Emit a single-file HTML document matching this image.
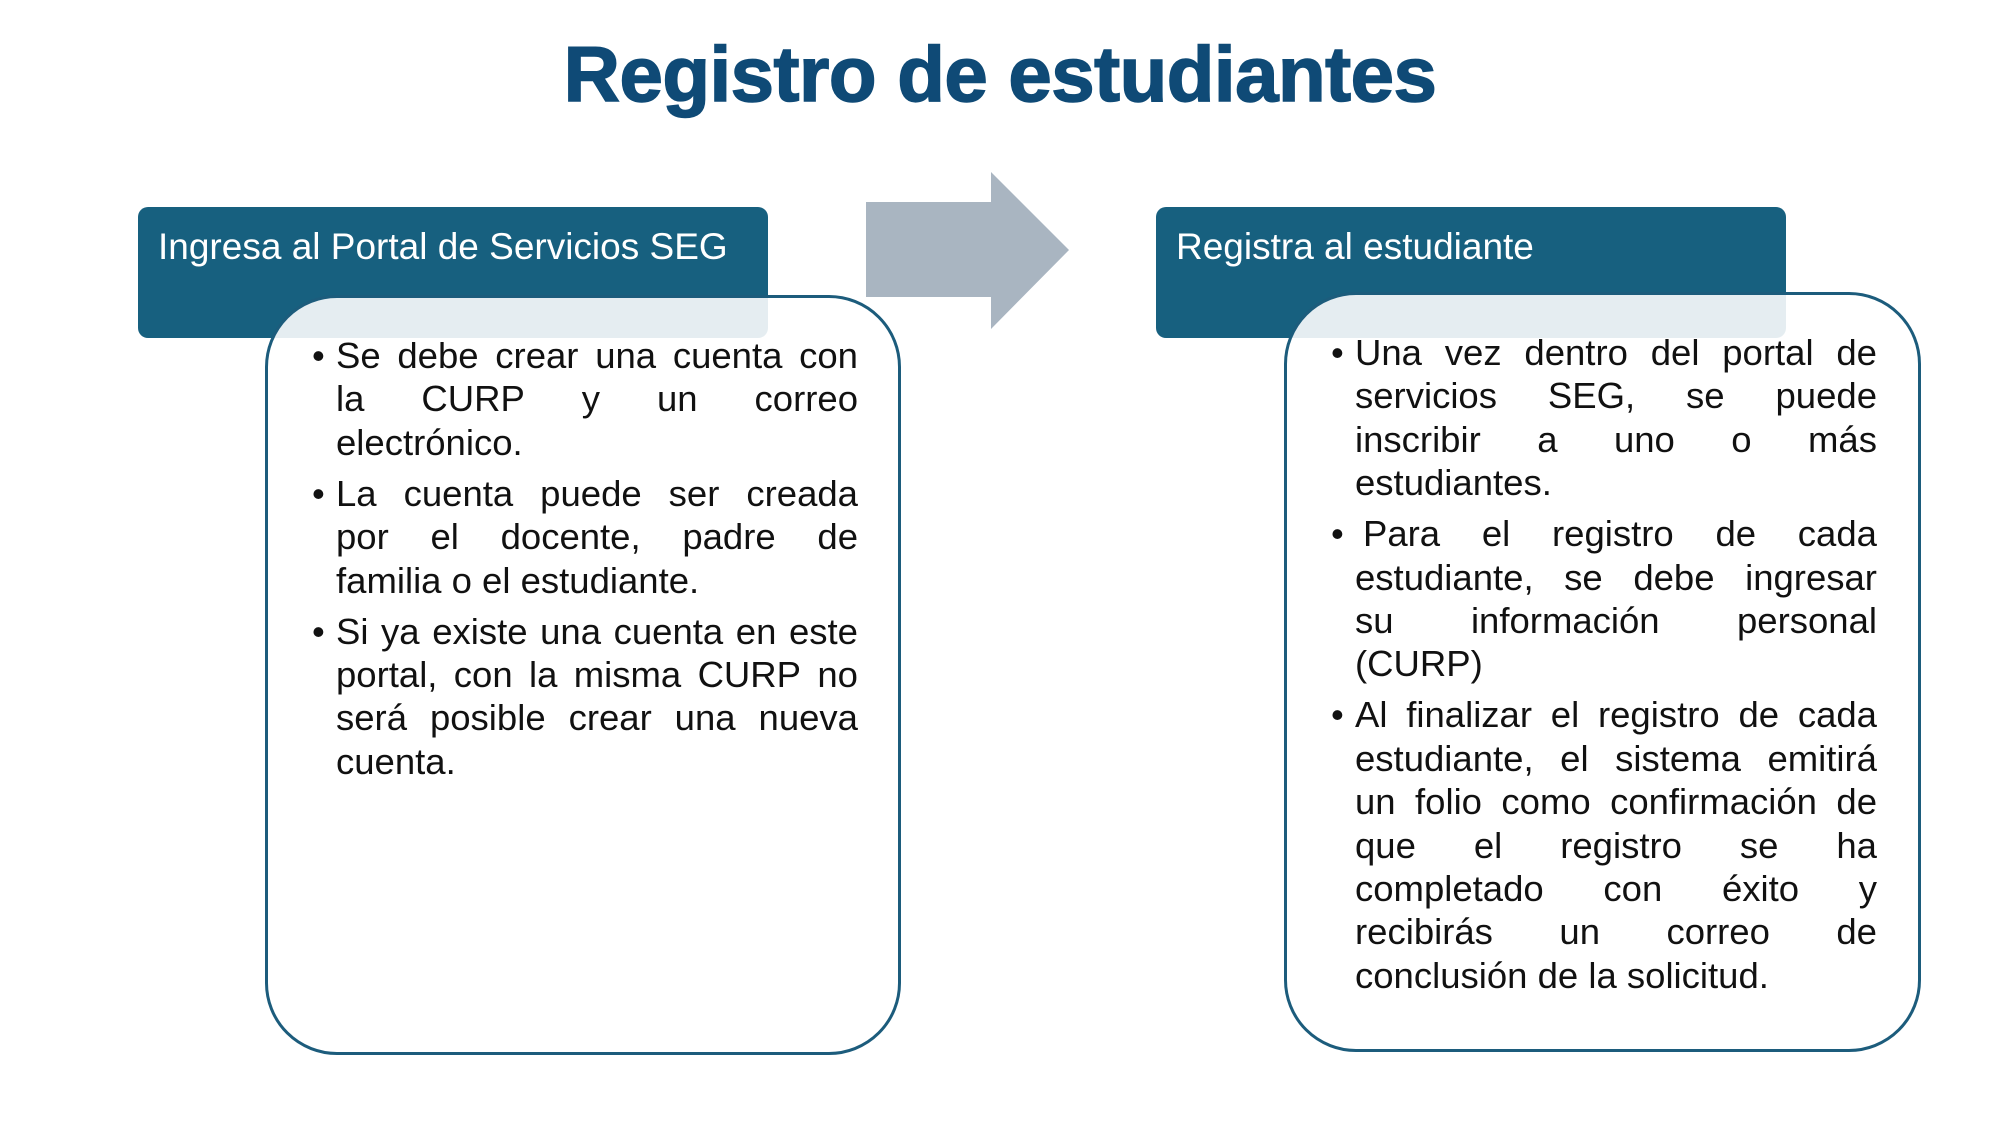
<!DOCTYPE html>
<html><head><meta charset="utf-8"><style>
html,body{margin:0;padding:0;background:#fff}
body{width:2000px;height:1125px;position:relative;overflow:hidden;font-family:"Liberation Sans",sans-serif}
.title{position:absolute;left:0;width:2000px;top:29px;line-height:90px;text-align:center;font-weight:bold;font-size:78px;color:#0f4a76;letter-spacing:-0.5px;-webkit-text-stroke:1.5px #0f4a76}
.hdr{position:absolute;background:#17607f;border-radius:10px;color:#fff;font-size:37px;box-sizing:border-box;padding-left:20px;padding-top:40px;line-height:0}
.body{position:absolute;box-sizing:border-box;border:3px solid #1c5c7c;border-radius:72px;background:rgba(255,255,255,0.89)}
.txt{position:absolute;font-size:36.5px;color:#111;line-height:43.4px}
.txt .l{white-space:nowrap;display:flex;justify-content:space-between}
.txt .e{justify-content:flex-start;white-space:pre}
.txt .p{margin-bottom:7.6px;position:relative}
.txt .p::before{content:"•";position:absolute;left:-24px;top:0}
</style></head><body>
<div class="title">Registro de estudiantes</div>

<div class="hdr" style="left:138px;top:207px;width:630px;height:131px">Ingresa al Portal de Servicios SEG</div>
<div class="body" style="left:265px;top:295px;width:636px;height:760px"></div>

<div class="hdr" style="left:1156px;top:207px;width:630px;height:131px">Registra al estudiante</div>
<div class="body" style="left:1284px;top:292px;width:637px;height:760px"></div>

<svg style="position:absolute;left:0;top:0" width="2000" height="1125">
<polygon points="866,202 991,202 991,172 1069,250 991,329 991,297 866,297" fill="#a9b5c1"/>
</svg>

<div class="txt" style="left:336px;top:334px;width:522px">
<div class="p">
<div class="l"><span>Se</span><span>debe</span><span>crear</span><span>una</span><span>cuenta</span><span>con</span></div>
<div class="l"><span>la</span><span>CURP</span><span>y</span><span>un</span><span>correo</span></div>
<div class="l e">electrónico.</div>
</div>
<div class="p">
<div class="l"><span>La</span><span>cuenta</span><span>puede</span><span>ser</span><span>creada</span></div>
<div class="l"><span>por</span><span>el</span><span>docente,</span><span>padre</span><span>de</span></div>
<div class="l e">familia o el estudiante.</div>
</div>
<div class="p">
<div class="l"><span>Si</span><span>ya</span><span>existe</span><span>una</span><span>cuenta</span><span>en</span><span>este</span></div>
<div class="l"><span>portal,</span><span>con</span><span>la</span><span>misma</span><span>CURP</span><span>no</span></div>
<div class="l"><span>será</span><span>posible</span><span>crear</span><span>una</span><span>nueva</span></div>
<div class="l e">cuenta.</div>
</div>
</div>

<div class="txt" style="left:1355px;top:331px;width:522px">
<div class="p">
<div class="l"><span>Una</span><span>vez</span><span>dentro</span><span>del</span><span>portal</span><span>de</span></div>
<div class="l"><span>servicios</span><span>SEG,</span><span>se</span><span>puede</span></div>
<div class="l"><span>inscribir</span><span>a</span><span>uno</span><span>o</span><span>más</span></div>
<div class="l e">estudiantes.</div>
</div>
<div class="p">
<div class="l" style="padding-left:8px"><span>Para</span><span>el</span><span>registro</span><span>de</span><span>cada</span></div>
<div class="l"><span>estudiante,</span><span>se</span><span>debe</span><span>ingresar</span></div>
<div class="l"><span>su</span><span>información</span><span>personal</span></div>
<div class="l e">(CURP)</div>
</div>
<div class="p">
<div class="l"><span>Al</span><span>finalizar</span><span>el</span><span>registro</span><span>de</span><span>cada</span></div>
<div class="l"><span>estudiante,</span><span>el</span><span>sistema</span><span>emitirá</span></div>
<div class="l"><span>un</span><span>folio</span><span>como</span><span>confirmación</span><span>de</span></div>
<div class="l"><span>que</span><span>el</span><span>registro</span><span>se</span><span>ha</span></div>
<div class="l"><span>completado</span><span>con</span><span>éxito</span><span>y</span></div>
<div class="l"><span>recibirás</span><span>un</span><span>correo</span><span>de</span></div>
<div class="l e">conclusión de la solicitud.</div>
</div>
</div>
</body></html>
